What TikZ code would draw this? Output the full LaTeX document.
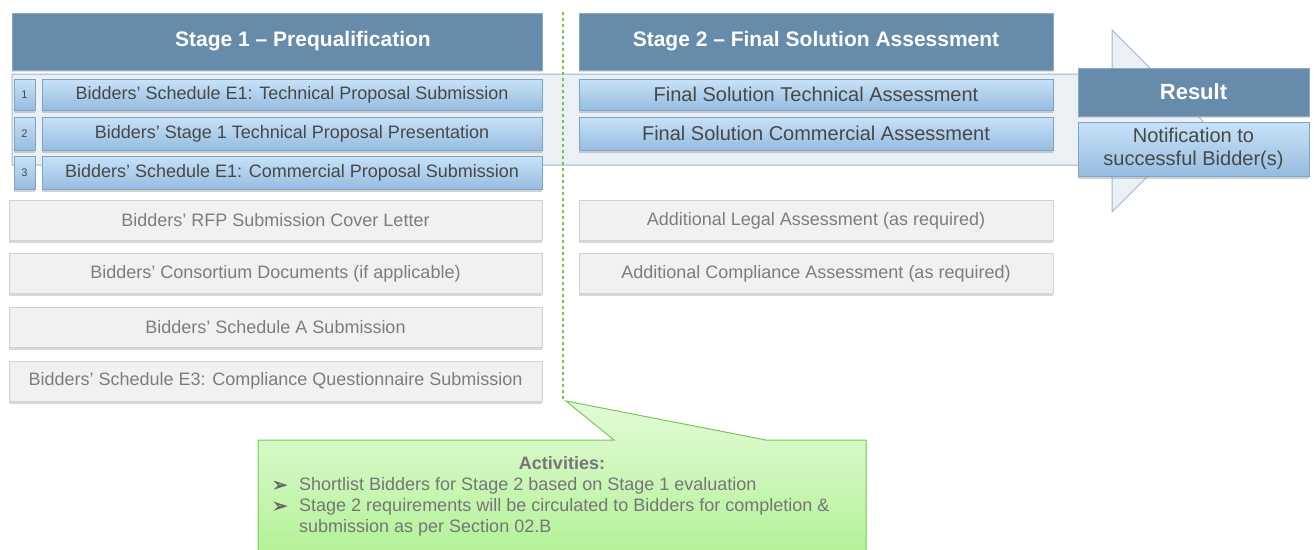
\documentclass[tikz,border=0pt]{standalone}
\usepackage{fontspec}
\setmainfont{Liberation Sans}
\newfontfamily\bulletfont[FakeBold=2.5]{DejaVu Sans}
\usetikzlibrary{shadows}
\definecolor{hdr}{RGB}{103,139,170}
\definecolor{hdrb}{RGB}{140,168,194}
\definecolor{blt}{RGB}{200,226,248}
\definecolor{blbt}{RGB}{150,188,224}
\definecolor{blb}{RGB}{128,164,198}
\definecolor{gryf}{RGB}{241,241,241}
\definecolor{gryb}{RGB}{210,210,210}
\definecolor{grytext}{RGB}{125,125,125}
\definecolor{dtext}{RGB}{72,72,72}
\definecolor{bandf}{RGB}{235,240,245}
\definecolor{bandb}{RGB}{160,182,204}
\definecolor{grt}{RGB}{228,251,216}
\definecolor{grbt}{RGB}{178,242,150}
\definecolor{grb}{RGB}{120,200,85}
\definecolor{divgreen}{RGB}{120,195,65}
\definecolor{calltx}{RGB}{118,118,118}
\tikzset{
  hdrbox/.style={draw=hdrb, fill=hdr, text=white, inner sep=0pt,
    font=\bfseries\fontsize{21}{25}\selectfont,
    drop shadow={shadow xshift=0pt, shadow yshift=-2pt, opacity=0.25}},
  bluebox/.style={draw=blb, top color=blt, bottom color=blbt, text=dtext, inner sep=0pt,
    font=\fontsize{18}{21}\selectfont,
    drop shadow={shadow xshift=0pt, shadow yshift=-2.5pt, opacity=0.35}},
  numbox/.style={bluebox, font=\fontsize{11}{13}\selectfont, minimum width=21pt},
  graybox/.style={draw=gryb, fill=gryf, text=grytext, inner sep=0pt,
    font=\fontsize{18}{21}\selectfont, minimum width=533pt, minimum height=40pt,
    drop shadow={shadow xshift=0pt, shadow yshift=-2.5pt, opacity=0.3}},
  calltext/.style={text=calltx, font=\fontsize{18}{21}\selectfont, inner sep=0pt},
  hdrtext/.style={text=white, font=\bfseries\fontsize{21}{25}\selectfont, inner sep=0pt},
}
\begin{document}
\begin{tikzpicture}[x=1pt,y=-1pt]
\useasboundingbox (0,0) rectangle (1314,549);
\fill[white] (0,0) rectangle (1314,549);
% band arrow
\draw[bandb, fill=bandf, line width=1pt] (12,74) -- (1112,74) -- (1112,30) -- (1203,121) -- (1112,212) -- (1112,165) -- (12,165) -- cycle;
% dashed divider
\draw[divgreen, dashed, line width=1.2pt] (563,12) -- (563,400);
% headers
\node[hdrbox, minimum width=530pt, minimum height=57pt] (s1) at (277,41.5) {};
\node[hdrtext] (s1t) at (303,41) {Stage 1 – Prequalification};
\node[hdrbox, minimum width=474pt, minimum height=57pt] (s2) at (816,41.5) {Stage 2 – Final Solution Assessment};
% stage 1 blue rows
\node[numbox, minimum height=31pt] (n1) at (24.5,94.5) {1};
\node[numbox, minimum height=33pt] (n2) at (24.5,133.5) {2};
\node[numbox, minimum height=33pt] (n3) at (24.5,172.5) {3};
\node[bluebox, minimum width=500pt, minimum height=31pt] (b1) at (292,94.5) {Bidders’ Schedule E1: Technical Proposal Submission};
\node[bluebox, minimum width=500pt, minimum height=33pt] (b2) at (292,133.5) {Bidders’ Stage 1 Technical Proposal Presentation};
\node[bluebox, minimum width=500pt, minimum height=33pt] (b3) at (292,172.5) {Bidders’ Schedule E1: Commercial Proposal Submission};
% stage 2 blue rows
\node[bluebox, minimum width=474pt, minimum height=31pt, font=\fontsize{20}{23}\selectfont] (c1) at (816,94.5) {Final Solution Technical Assessment};
\node[bluebox, minimum width=474pt, minimum height=33pt, font=\fontsize{20}{23}\selectfont] (c2) at (816,133.5) {Final Solution Commercial Assessment};
% gray rows
\node[graybox] (g1) at (275.5,220.5) {Bidders’ RFP Submission Cover Letter};
\node[graybox] (g2) at (275.5,273.5) {Bidders’ Consortium Documents (if applicable)};
\node[graybox] (g3) at (275.5,327.5) {Bidders’ Schedule A Submission};
\node[graybox] (g4) at (275.5,381) {Bidders’ Schedule E3: Compliance Questionnaire Submission};
\node[graybox, minimum width=474pt] (h1) at (816,220.5) {Additional Legal Assessment (as required)};
\node[graybox, minimum width=474pt] (h2) at (816,273.5) {Additional Compliance Assessment (as required)};
% result
\node[hdrbox, minimum width=231pt, minimum height=48pt, font=\bfseries\fontsize{22}{26}\selectfont] (r) at (1193.5,92) {Result};
\node[bluebox, minimum width=231pt, minimum height=54pt, align=center, font=\fontsize{20}{22.5}\selectfont] (rn) at (1193.5,149) {Notification to\\successful Bidder(s)};
% callout
\draw[grb, line width=1pt, top color=grt, bottom color=grbt] (258,440) -- (614,440) -- (566,401) -- (766,440) -- (866,440) -- (866,556) -- (258,556) -- cycle;
\node[calltext, font=\bfseries\fontsize{18}{21}\selectfont] (act) at (562,463) {Activities:};
\node[calltext, text=black!60, font=\bulletfont\fontsize{18}{20}\selectfont] (k1) at (280,486) {➢};
\node[calltext, text=black!60, font=\bulletfont\fontsize{18}{20}\selectfont] (k2) at (280,507) {➢};
\node[calltext, anchor=west] (t1) at (299,486) {Shortlist Bidders for Stage 2 based on Stage 1 evaluation};
\node[calltext, anchor=west] (t2) at (299,507) {Stage 2 requirements will be circulated to Bidders for completion \&};
\node[calltext, anchor=west] (t3) at (299,528) {submission as per Section 02.B};
\end{tikzpicture}
\end{document}
